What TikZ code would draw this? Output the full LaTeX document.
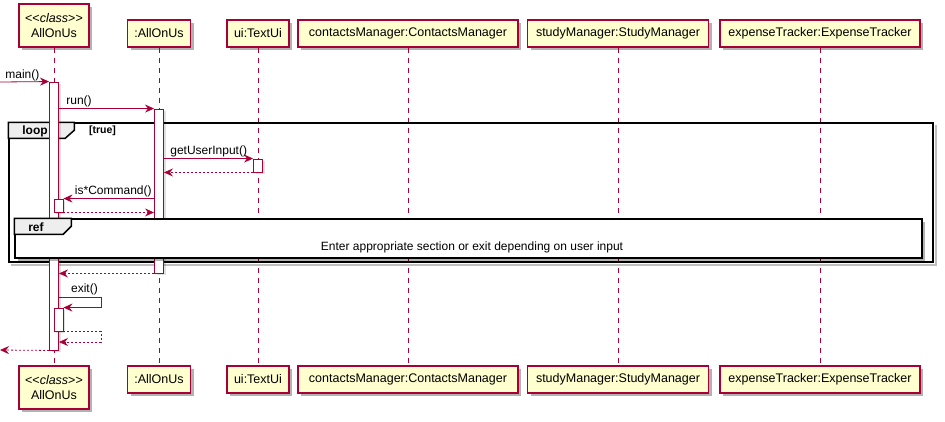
\documentclass[tikz,border=0pt]{standalone}
\usepackage{fontspec}
\setmainfont{Liberation Sans}
\usetikzlibrary{positioning, arrows.meta, shadows}

\definecolor{umlred}{HTML}{A80036}
\definecolor{umlfill}{HTML}{FEFECE}
\definecolor{umltab}{HTML}{EEEEEE}

\tikzset{
  part/.style={draw=umlred, fill=umlfill, line width=1.1pt, inner sep=0pt, minimum height=27,
    font=\fontsize{12.5}{15}\selectfont, drop shadow={shadow xshift=3pt, shadow yshift=-3pt, fill=black, opacity=0.3}},
  act/.style={draw=umlred, fill=white, line width=0.9pt, minimum width=9, inner sep=0pt,
    drop shadow={shadow xshift=2pt, shadow yshift=-2pt, fill=black, opacity=0.12}},
  life/.style={draw=umlred, line width=0.8pt, dash pattern=on 5pt off 5pt},
  msg/.style={draw=umlred, line width=0.8pt, -{Stealth[length=9pt, width=8pt, inset=3pt]}},
  ret/.style={msg, dash pattern=on 2pt off 2pt},
  lbl/.style={inner sep=1pt, font=\fontsize{12}{14}\selectfont},
  frame/.style={draw=black, line width=1.5pt},
  tabtxt/.style={inner sep=0pt, font=\fontsize{12}{14}\selectfont\bfseries},
}

\begin{document}
\begin{tikzpicture}[x=1pt, y=-1pt]
\useasboundingbox (0,0) rectangle (945,421);

    \node[part, minimum width=70, minimum height=43, align=center] (P0) at (54,25.5) {<\kern0pt<\textit{class}>\kern0pt>\\AllOnUs};
    \node[part, minimum width=63] (P1) at (159,33.5) {:AllOnUs};
    \node[part, minimum width=62] (P2) at (258,33.5) {ui:TextUi};
    \node[part, minimum width=220] (P3) at (408,33.5) {contactsManager:ContactsManager};
    \node[part, minimum width=181] (P4) at (618,33.5) {studyManager:StudyManager};
    \node[part, minimum width=200] (P5) at (820,33.5) {expenseTracker:ExpenseTracker};

    \node[part, minimum width=70, minimum height=43, align=center] (Q0) at (54,387.5) {<\kern0pt<\textit{class}>\kern0pt>\\AllOnUs};
    \node[part, minimum width=63] (Q1) at (159,379.5) {:AllOnUs};
    \node[part, minimum width=62] (Q2) at (258,379.5) {ui:TextUi};
    \node[part, minimum width=220] (Q3) at (408,379.5) {contactsManager:ContactsManager};
    \node[part, minimum width=181] (Q4) at (618,379.5) {studyManager:StudyManager};
    \node[part, minimum width=200] (Q5) at (820,379.5) {expenseTracker:ExpenseTracker};

\foreach \i in {0,...,5}
    \draw[life] (P\i.south) -- (Q\i.north);

    \node[frame, minimum width=924, minimum height=139, inner sep=0pt] (L0) at (471,192.5) {};
\draw[black!25, line width=2pt] ([shift={(2.5,2.5)}]L0.north east) -- ([shift={(2.5,2.5)}]L0.south east) -- ([shift={(2.5,2.5)}]L0.south west);
\draw[frame, fill=umltab] (L0.north west) -- ++(66,0) -- ++(0,8) -- ++(-9,8) -- ++(-57,0) -- cycle;
    \node[tabtxt] (T0) at (35,131) {loop};
    \node[tabtxt, font=\fontsize{10.5}{12}\selectfont\bfseries, right=41pt of T0] (T1) {[true]};

    \node[act, minimum height=268] (A0) at (54,216) {};
    \node[act, minimum height=164] (A1) at (159,191) {};
    \node[act, minimum height=13] (A2) at (258,165.5) {};
    \node[act, minimum height=13] (A3) at (58.5,205.5) {};
    \node[act, minimum height=23] (A4) at (58.5,319.5) {};

    \coordinate (S0) at (0,82);
\draw[msg] (S0) -- (A0.north west) node[lbl, pos=0, above right, xshift=4] (E0) {main()};
\draw[msg] (A0.east |- A1.north) -- (A1.north west) node[lbl, pos=0, above right, xshift=6] (E1) {run()};
\draw[msg] (A1.east |- A2.north) -- (A2.north west) node[lbl, pos=0, above right, xshift=5] (E2) {getUserInput()};
\draw[ret] (A2.south west) -- (A1.east |- A2.south);
\draw[msg] (A1.west |- A3.north) -- (A3.north east) node[lbl, pos=0, above left, xshift=-1] (E3) {is*Command()};
\draw[ret] (A3.south east) -- (A1.west |- A3.south);

    \node[frame, fill=white, minimum width=907, minimum height=39, inner sep=0pt,
      drop shadow={shadow xshift=3pt, shadow yshift=-3pt, fill=black, opacity=0.3}] (R0) at (468.5,238.5) {};
\draw[frame, fill=umltab] (R0.north west) -- ++(57,0) -- ++(0,8) -- ++(-8,8) -- ++(-49,0) -- cycle;
    \node[tabtxt] (T2) at (36,227) {ref};
    \node[lbl] (R1) at (472,247) {Enter appropriate section or exit depending on user input};

\draw[ret] (A1.south west) -- (A0.east |- A1.south);

    \coordinate (X0) at (101,297);
    \coordinate (X1) at (101,342);
\draw[msg] (A0.east |- X0) -- (X0) |- (A4.north east);
    \node[lbl, above right=1pt and 11pt of {A0.east |- X0}] (E4) {exit()};
\draw[ret] (A4.south east) -| (X1) -- (A0.east |- X1);
    \coordinate (S1) at (0,350);
\draw[ret] (A0.south west) -- (S1);

\end{tikzpicture}
\end{document}
